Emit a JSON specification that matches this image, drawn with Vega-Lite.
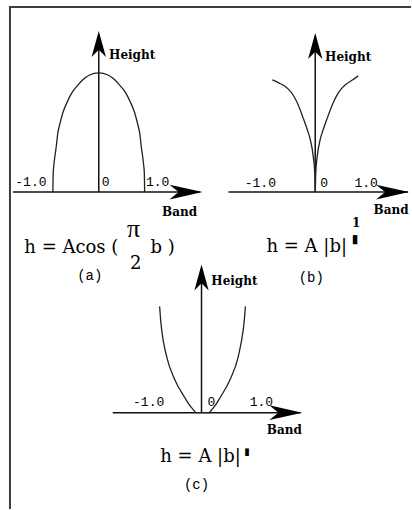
{
  "$schema": "https://vega.github.io/schema/vega-lite/v6.json",
  "autosize": {"type": "fit", "contains": "padding"},
  "width": 412,
  "height": 510,
  "padding": 0,
  "background": "white",
  "config": {"view": {"stroke": null}},
  "datasets": {
    "frame": [
      {"b": -1.9565, "h": 1.545833, "b2": 6.804348, "h2": 1.545833},
      {"b": -1.934783, "h": 1.554167, "b2": -1.934783, "h2": -2.645833}
    ],
    "axesA": [
      {"b": -1.8696, "h": 0, "b2": 2.1957, "h2": 0},
      {"b": 0, "h": 0, "b2": 0, "h2": 1.3}
    ],
    "axesB": [
      {"b": -1.9333, "h": 0, "b2": 2.0667, "h2": 0},
      {"b": 0, "h": 0, "b2": 0, "h2": 1.3}
    ],
    "axesC": [
      {"b": -1.9778, "h": 0, "b2": 2.2, "h2": 0},
      {"b": 0, "h": 0, "b2": 0, "h2": 1.2}
    ],
    "hArrowA": [{"b": 1.9022, "h": 0}],
    "vArrowA": [{"b": 0, "h": 1.2375}],
    "hArrowB": [{"b": 1.7222, "h": 0}],
    "vArrowB": [{"b": 0, "h": 1.2208}],
    "hArrowC": [{"b": 1.8778, "h": 0}],
    "vArrowC": [{"b": 0, "h": 1.1292}],
    "curveA": [
      {"b": -1, "h": 0}, {"b": -0.993, "h": 0.16}, {"b": -0.98, "h": 0.22},
      {"b": -0.957, "h": 0.296}, {"b": -0.93, "h": 0.37}, {"b": -0.891, "h": 0.496},
      {"b": -0.84, "h": 0.58}, {"b": -0.783, "h": 0.663}, {"b": -0.69, "h": 0.75},
      {"b": -0.587, "h": 0.829}, {"b": -0.45, "h": 0.895}, {"b": -0.348, "h": 0.938},
      {"b": -0.2, "h": 0.978}, {"b": 0, "h": 0.996}, {"b": 0.2, "h": 0.978},
      {"b": 0.348, "h": 0.938}, {"b": 0.45, "h": 0.895}, {"b": 0.587, "h": 0.829},
      {"b": 0.69, "h": 0.75}, {"b": 0.783, "h": 0.663}, {"b": 0.84, "h": 0.58},
      {"b": 0.891, "h": 0.496}, {"b": 0.93, "h": 0.37}, {"b": 0.957, "h": 0.296},
      {"b": 0.98, "h": 0.22}, {"b": 0.993, "h": 0.16}, {"b": 1, "h": 0}
    ],
    "curveB": [
      {"b": -0.9556, "h": 0.9375}, {"b": -0.88, "h": 0.925}, {"b": -0.8, "h": 0.91},
      {"b": -0.7, "h": 0.89}, {"b": -0.6, "h": 0.86}, {"b": -0.5, "h": 0.815},
      {"b": -0.4, "h": 0.7458}, {"b": -0.27, "h": 0.62}, {"b": -0.18, "h": 0.525},
      {"b": -0.11, "h": 0.4375}, {"b": -0.044, "h": 0.296}, {"b": -0.01, "h": 0.146},
      {"b": 0, "h": 0},
      {"b": 0.01, "h": 0.146}, {"b": 0.044, "h": 0.296}, {"b": 0.11, "h": 0.4375},
      {"b": 0.18, "h": 0.525}, {"b": 0.27, "h": 0.62}, {"b": 0.4, "h": 0.7458},
      {"b": 0.5, "h": 0.82}, {"b": 0.6, "h": 0.87}, {"b": 0.7, "h": 0.905},
      {"b": 0.8, "h": 0.93}, {"b": 0.88, "h": 0.95}, {"b": 0.9556, "h": 0.9708}
    ],
    "curveC": [
      {"b": -0.9333, "h": 0.8875}, {"b": -0.9111, "h": 0.779}, {"b": -0.8889, "h": 0.6958},
      {"b": -0.7778, "h": 0.4708}, {"b": -0.6, "h": 0.2792}, {"b": -0.3778, "h": 0.1292},
      {"b": -0.2667, "h": 0.0625}, {"b": -0.1556, "h": 0.0125}, {"b": -0.13, "h": 0},
      {"b": 0.17, "h": 0}, {"b": 0.2, "h": 0.0125}, {"b": 0.31, "h": 0.0625},
      {"b": 0.42, "h": 0.1292}, {"b": 0.64, "h": 0.2792}, {"b": 0.82, "h": 0.4708},
      {"b": 0.93, "h": 0.6958}, {"b": 0.955, "h": 0.779}, {"b": 0.9778, "h": 0.8875}
    ],
    "ticksA": [
      {"b": -1.4783, "h": 0.0875, "text": "-1.0"},
      {"b": 0.1522, "h": 0.0875, "text": "0"},
      {"b": 1.2826, "h": 0.0875, "text": "1.0"}
    ],
    "ticksB": [
      {"b": -1.2222, "h": 0.0792, "text": "-1.0"},
      {"b": 0.2, "h": 0.0792, "text": "0"},
      {"b": 1.1333, "h": 0.0792, "text": "1.0"}
    ],
    "ticksC": [
      {"b": -1.1778, "h": 0.0875, "text": "-1.0"},
      {"b": 0.2222, "h": 0.0875, "text": "0"},
      {"b": 1.3333, "h": 0.0875, "text": "1.0"}
    ],
    "namesA": [
      {"b": 0.7283, "h": 1.1458, "text": "Height"},
      {"b": 1.7609, "h": -0.1625, "text": "Band"}
    ],
    "namesB": [
      {"b": 0.7333, "h": 1.1292, "text": "Height"},
      {"b": 1.6889, "h": -0.1458, "text": "Band"}
    ],
    "namesC": [
      {"b": 0.7333, "h": 1.0958, "text": "Height"},
      {"b": 1.8444, "h": -0.1458, "text": "Band"}
    ],
    "formulaA": [
      {"b": -0.5978, "h": -0.5042, "text": "h = Acos ("},
      {"b": 0.8043, "h": -0.6458, "text": "2"},
      {"b": 1.3913, "h": -0.5042, "text": "b )"}
    ],
    "piA": [
      {"b": 0.7609, "h": -0.3708, "text": "π"}
    ],
    "formulaB": [
      {"b": -0.1889, "h": -0.4958, "text": "h = A |b|"}
    ],
    "formulaC": [
      {"b": -0.0222, "h": -0.4125, "text": "h = A |b|"}
    ],
    "supB": [
      {"b": 0.9111, "h": -0.2542, "text": "1"},
      {"b": 0.8889, "h": -0.3875, "text": "▮"}
    ],
    "supC": [
      {"b": 1.0111, "h": -0.325, "text": "▮"}
    ],
    "tagA": [{"b": -0.1957, "h": -0.7042, "text": "(a)"}],
    "tagB": [{"b": -0.0889, "h": -0.7208, "text": "(b)"}],
    "tagC": [{"b": -0.1111, "h": -0.6042, "text": "(c)"}]
  },
  "resolve": {"scale": {"x": "independent", "y": "independent"}},
  "layer": [
    {
      "encoding": {
        "x": {"field": "b", "type": "quantitative", "axis": null,
              "scale": {"domain": [-2.152174, 6.804348], "nice": false, "zero": false}},
        "y": {"field": "h", "type": "quantitative", "axis": null,
              "scale": {"domain": [-2.645833, 1.604167], "nice": false, "zero": false}}
      },
      "layer": [
        {"data": {"name": "frame"}, "mark": {"type": "rule", "color": "#3c3c3c", "strokeWidth": 2},
         "encoding": {"x2": {"field": "b2"}, "y2": {"field": "h2"}}},
        {"data": {"name": "axesA"}, "mark": {"type": "rule", "color": "#111111", "strokeWidth": 1.5},
         "encoding": {"x2": {"field": "b2"}, "y2": {"field": "h2"}}},
        {"data": {"name": "curveA"}, "mark": {"type": "line", "color": "#222222", "strokeWidth": 1.3, "interpolate": "monotone"}},
        {"data": {"name": "hArrowA"}, "mark": {"type": "point", "shape": "M1,0 L-1,-0.45 L-0.45,0 L-1,0.45 Z", "size": 1089, "filled": true, "color": "#000000", "opacity": 1, "strokeWidth": 0}},
        {"data": {"name": "vArrowA"}, "mark": {"type": "point", "shape": "M0,-1 L0.55,1 L0,0.45 L-0.55,1 Z", "size": 676, "filled": true, "color": "#000000", "opacity": 1, "strokeWidth": 0}},
        {"data": {"name": "ticksA"}, "mark": {"type": "text", "font": "Liberation Mono", "fontSize": 13, "align": "center", "baseline": "middle", "color": "#000000"},
         "encoding": {"text": {"field": "text"}}},
        {"data": {"name": "namesA"}, "mark": {"type": "text", "font": "DejaVu Serif", "fontWeight": "bold", "fontSize": 12, "align": "center", "baseline": "middle", "color": "#000000"},
         "encoding": {"text": {"field": "text"}}},
        {"data": {"name": "formulaA"}, "mark": {"type": "text", "font": "DejaVu Serif", "fontSize": 18, "align": "center", "baseline": "alphabetic", "color": "#000000"},
         "encoding": {"text": {"field": "text"}}},
        {"data": {"name": "piA"}, "mark": {"type": "text", "font": "Liberation Serif", "fontSize": 26, "align": "center", "baseline": "alphabetic", "color": "#000000"},
         "encoding": {"text": {"field": "text"}}},
        {"data": {"name": "tagA"}, "mark": {"type": "text", "font": "Liberation Mono", "fontSize": 14, "align": "center", "baseline": "middle", "color": "#000000"},
         "encoding": {"text": {"field": "text"}}}
      ]
    },
    {
      "encoding": {
        "x": {"field": "b", "type": "quantitative", "axis": null,
              "scale": {"domain": [-7.022222, 2.133333], "nice": false, "zero": false}},
        "y": {"field": "h", "type": "quantitative", "axis": null,
              "scale": {"domain": [-2.645833, 1.604167], "nice": false, "zero": false}}
      },
      "layer": [
        {"data": {"name": "axesB"}, "mark": {"type": "rule", "color": "#111111", "strokeWidth": 1.5},
         "encoding": {"x2": {"field": "b2"}, "y2": {"field": "h2"}}},
        {"data": {"name": "curveB"}, "mark": {"type": "line", "color": "#222222", "strokeWidth": 1.3, "interpolate": "monotone"}},
        {"data": {"name": "hArrowB"}, "mark": {"type": "point", "shape": "M1,0 L-1,-0.45 L-0.45,0 L-1,0.45 Z", "size": 1089, "filled": true, "color": "#000000", "opacity": 1, "strokeWidth": 0}},
        {"data": {"name": "vArrowB"}, "mark": {"type": "point", "shape": "M0,-1 L0.55,1 L0,0.45 L-0.55,1 Z", "size": 676, "filled": true, "color": "#000000", "opacity": 1, "strokeWidth": 0}},
        {"data": {"name": "ticksB"}, "mark": {"type": "text", "font": "Liberation Mono", "fontSize": 13, "align": "center", "baseline": "middle", "color": "#000000"},
         "encoding": {"text": {"field": "text"}}},
        {"data": {"name": "namesB"}, "mark": {"type": "text", "font": "DejaVu Serif", "fontWeight": "bold", "fontSize": 12, "align": "center", "baseline": "middle", "color": "#000000"},
         "encoding": {"text": {"field": "text"}}},
        {"data": {"name": "formulaB"}, "mark": {"type": "text", "font": "DejaVu Serif", "fontSize": 18, "align": "center", "baseline": "alphabetic", "color": "#000000"},
         "encoding": {"text": {"field": "text"}}},
        {"data": {"name": "supB"}, "mark": {"type": "text", "font": "DejaVu Serif", "fontWeight": "bold", "fontSize": 12, "align": "center", "baseline": "middle", "color": "#000000"},
         "encoding": {"text": {"field": "text"}}},
        {"data": {"name": "tagB"}, "mark": {"type": "text", "font": "Liberation Mono", "fontSize": 14, "align": "center", "baseline": "middle", "color": "#000000"},
         "encoding": {"text": {"field": "text"}}}
      ]
    },
    {
      "encoding": {
        "x": {"field": "b", "type": "quantitative", "axis": null,
              "scale": {"domain": [-4.488889, 4.666667], "nice": false, "zero": false}},
        "y": {"field": "h", "type": "quantitative", "axis": null,
              "scale": {"domain": [-0.804167, 3.445833], "nice": false, "zero": false}}
      },
      "layer": [
        {"data": {"name": "axesC"}, "mark": {"type": "rule", "color": "#111111", "strokeWidth": 1.5},
         "encoding": {"x2": {"field": "b2"}, "y2": {"field": "h2"}}},
        {"data": {"name": "curveC"}, "mark": {"type": "line", "color": "#222222", "strokeWidth": 1.3, "interpolate": "monotone"}},
        {"data": {"name": "hArrowC"}, "mark": {"type": "point", "shape": "M1,0 L-1,-0.45 L-0.45,0 L-1,0.45 Z", "size": 1089, "filled": true, "color": "#000000", "opacity": 1, "strokeWidth": 0}},
        {"data": {"name": "vArrowC"}, "mark": {"type": "point", "shape": "M0,-1 L0.55,1 L0,0.45 L-0.55,1 Z", "size": 676, "filled": true, "color": "#000000", "opacity": 1, "strokeWidth": 0}},
        {"data": {"name": "ticksC"}, "mark": {"type": "text", "font": "Liberation Mono", "fontSize": 13, "align": "center", "baseline": "middle", "color": "#000000"},
         "encoding": {"text": {"field": "text"}}},
        {"data": {"name": "namesC"}, "mark": {"type": "text", "font": "DejaVu Serif", "fontWeight": "bold", "fontSize": 12, "align": "center", "baseline": "middle", "color": "#000000"},
         "encoding": {"text": {"field": "text"}}},
        {"data": {"name": "formulaC"}, "mark": {"type": "text", "font": "DejaVu Serif", "fontSize": 18, "align": "center", "baseline": "alphabetic", "color": "#000000"},
         "encoding": {"text": {"field": "text"}}},
        {"data": {"name": "supC"}, "mark": {"type": "text", "font": "DejaVu Serif", "fontWeight": "bold", "fontSize": 10, "align": "center", "baseline": "middle", "color": "#000000"},
         "encoding": {"text": {"field": "text"}}},
        {"data": {"name": "tagC"}, "mark": {"type": "text", "font": "Liberation Mono", "fontSize": 14, "align": "center", "baseline": "middle", "color": "#000000"},
         "encoding": {"text": {"field": "text"}}}
      ]
    }
  ]
}
